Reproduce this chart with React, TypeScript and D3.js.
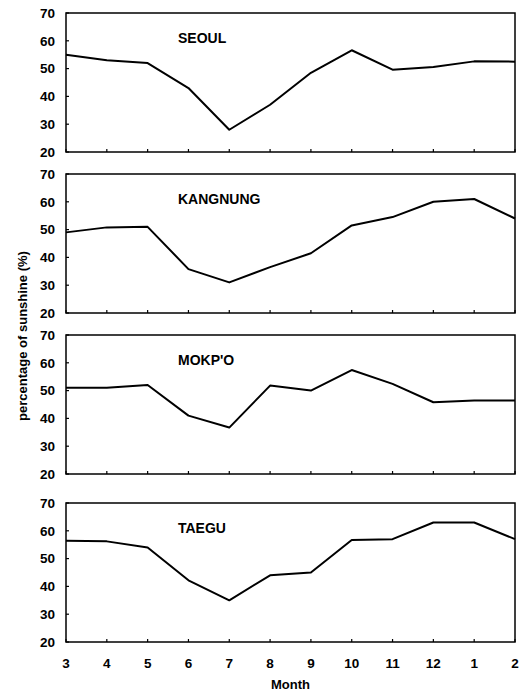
import React from "react";
import * as d3 from "d3";

const months = ["3", "4", "5", "6", "7", "8", "9", "10", "11", "12", "1", "2"];
const stations = ["SEOUL", "KANGNUNG", "MOKP'O", "TAEGU"];
const seoul = [55, 53, 52, 43, 28, 37, 48.5, 56.6, 49.6, 50.6, 52.6, 52.5];
const kangnung = [49, 50.8, 51, 35.8, 31, 36.5, 41.5, 51.5, 54.5, 60, 61, 54];
const mokpo = [51, 51, 52, 41, 36.7, 51.8, 50, 57.4, 52.4, 45.8, 46.4, 46.4];
const taegu = [56.4, 56.2, 54, 42.2, 35, 44, 45, 56.7, 57, 63, 63, 57];
const yTicks = [20, 30, 40, 50, 60, 70];
const seriesList = [seoul, kangnung, mokpo, taegu];

const W = 530;
const H = 692;
const x0 = 66;
const x1 = 515;
const panelTops = [13, 174, 335, 503];
const panelH = 139;
const FONT = "'Liberation Sans', Arial, sans-serif";

export default function App() {
  const x = d3
    .scalePoint<string>()
    .domain(months)
    .range([x0, x1]);

  return (
    <svg
      width={W}
      height={H}
      style={{ position: "absolute", left: 0, top: 0, background: "#fff" }}
    >
      {seriesList.map((vals, i) => {
        const top = panelTops[i];
        const y = d3.scaleLinear().domain([20, 70]).range([top + panelH, top]);
        const line = d3
          .line<number>()
          .x((_, j) => x(months[j]) as number)
          .y((v) => y(v));
        return (
          <g key={stations[i]}>
            <rect
              x={x0}
              y={top}
              width={x1 - x0}
              height={panelH}
              fill="none"
              stroke="#000"
              strokeWidth={1.5}
            />
            {months.map((m) => (
              <line
                key={m}
                x1={x(m)}
                x2={x(m)}
                y1={top + panelH}
                y2={top + panelH - 3}
                stroke="#000"
                strokeWidth={1.2}
              />
            ))}
            {yTicks.map((t) => (
              <g key={t}>
                <line
                  x1={x0}
                  x2={x0 + 3}
                  y1={y(t)}
                  y2={y(t)}
                  stroke="#000"
                  strokeWidth={1.2}
                />
                <text
                  x={55}
                  y={y(t)}
                  dy="0.35em"
                  textAnchor="end"
                  fontFamily={FONT}
                  fontWeight="bold"
                  fontSize={13.5}
                  fill="#000"
                >
                  {t}
                </text>
              </g>
            ))}
            <path d={line(vals) || ""} fill="none" stroke="#000" strokeWidth={2} strokeLinejoin="round" />
            <text
              x={178}
              y={top + 30}
              fontFamily={FONT}
              fontWeight="bold"
              fontSize={14}
              fill="#000"
            >
              {stations[i]}
            </text>
          </g>
        );
      })}
      {months.map((m) => (
        <text
          key={m}
          x={x(m)}
          y={668}
          textAnchor="middle"
          fontFamily={FONT}
          fontWeight="bold"
          fontSize={13.5}
          fill="#000"
        >
          {m}
        </text>
      ))}
      <text
        x={(x0 + x1) / 2}
        y={689}
        textAnchor="middle"
        fontFamily={FONT}
        fontWeight="bold"
        fontSize={13}
        fill="#000"
      >
        Month
      </text>
      <text
        transform={`translate(22,336) rotate(-90)`}
        textAnchor="middle"
        dy="0.35em"
        fontFamily={FONT}
        fontWeight="bold"
        fontSize={13}
        fill="#000"
      >
        percentage of sunshine (%)
      </text>
    </svg>
  );
}
